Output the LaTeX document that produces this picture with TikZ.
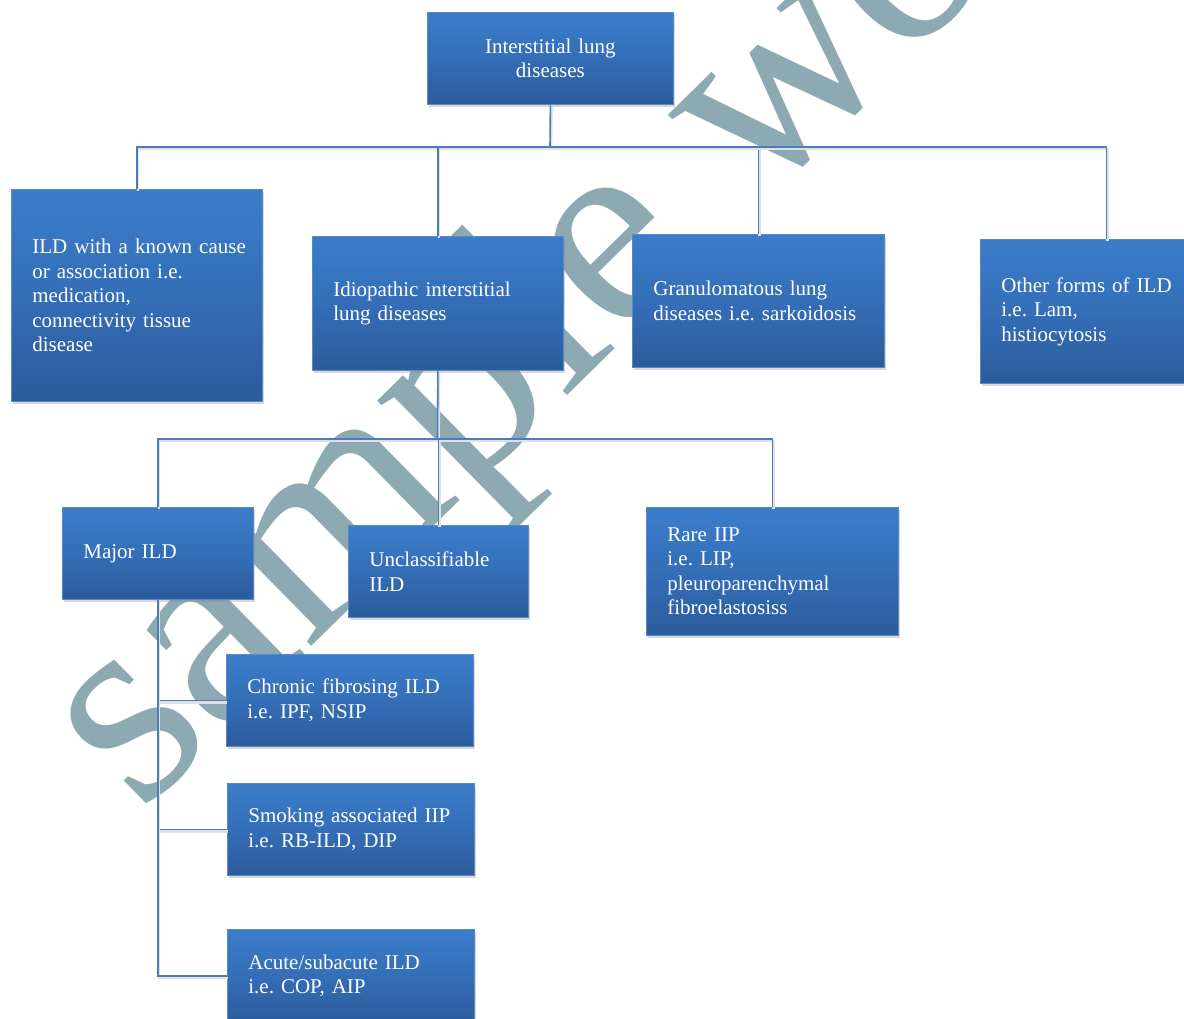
\documentclass[tikz,border=0pt]{standalone}
\usepackage{fontspec}
\setmainfont{Liberation Serif}
\usetikzlibrary{shadows,calc}
\definecolor{bT}{RGB}{59,125,202}
\definecolor{bM}{RGB}{52,110,183}
\definecolor{bB}{RGB}{44,91,155}
\definecolor{bEdge}{RGB}{88,138,200}
\definecolor{lineC}{RGB}{74,125,191}
\definecolor{wmC}{RGB}{141,170,178}
\tikzset{
  box/.style={draw=bEdge, line width=0.8pt, top color=bT, bottom color=bB, middle color=bM,
    drop shadow={shadow xshift=2pt, shadow yshift=-3pt, opacity=0.3},
    text=white, inner ysep=0pt, inner xsep=21pt, anchor=north west, align=left,
    font=\fontsize{21}{24.5}\selectfont\frenchspacing},
  conn/.style={draw=lineC, line width=1.6pt,
    preaction={draw=black!12, line width=2.4pt, transform canvas={xshift=1.2pt,yshift=-2pt}}},
  wm/.style={text=wmC, font=\fontsize{281}{281}\selectfont, inner sep=0pt}
}
\newcommand\lbx[1]{\mbox{#1}}
\begin{document}
\begin{tikzpicture}[x=1pt,y=-1pt]
\useasboundingbox (0,0) rectangle (1184,1018);
\fill[white] (0,0) rectangle (1184,1018);
% watermark
\node[wm, rotate=44.5, anchor=base west] (wmark) at (140,815) {sample work};
% boxes
\node[box, align=center, minimum width=246pt, minimum height=92pt, text width=204pt] (top) at (427,12)
  {\lbx{Interstitial lung}\\\lbx{diseases}};
\node[box, minimum width=251pt, minimum height=212pt, text width=209pt] (known) at (11,189)
  {\lbx{ILD with a known cause}\\\lbx{or association i.e.}\\\lbx{medication,}\\\lbx{connectivity tissue}\\\lbx{disease}};
\node[box, minimum width=251pt, minimum height=134pt, text width=209pt] (idio) at (312,236)
  {\lbx{Idiopathic interstitial}\\\lbx{lung diseases}};
\node[box, minimum width=252pt, minimum height=133pt, text width=210pt] (granu) at (632,234)
  {\lbx{Granulomatous lung}\\\lbx{diseases i.e. sarkoidosis}};
\node[box, minimum width=252pt, minimum height=144pt, text width=210pt] (other) at (980,239)
  {\lbx{Other forms of ILD}\\\lbx{i.e. Lam,}\\\lbx{histiocytosis}};
\node[box, minimum width=191pt, minimum height=92pt, text width=149pt] (major) at (62,507)
  {\lbx{Major ILD}};
\node[box, minimum width=180pt, minimum height=92pt, text width=138pt] (uncl) at (348,525)
  {\lbx{Unclassifiable}\\\lbx{ILD}};
\node[box, minimum width=252pt, minimum height=128pt, text width=210pt] (rare) at (646,507)
  {\lbx{Rare IIP}\\\lbx{i.e. LIP,}\\\lbx{pleuroparenchymal}\\\lbx{fibroelastosiss}};
\node[box, minimum width=247pt, minimum height=92pt, text width=205pt] (chron) at (226,654)
  {\lbx{Chronic fibrosing ILD}\\\lbx{i.e. IPF, NSIP}};
\node[box, minimum width=247pt, minimum height=92pt, text width=205pt] (smok) at (227,783)
  {\lbx{Smoking associated IIP}\\\lbx{i.e. RB-ILD, DIP}};
\node[box, minimum width=247pt, minimum height=93pt, text width=205pt] (acute) at (227,929)
  {\lbx{Acute/subacute ILD}\\\lbx{i.e. COP, AIP}};
% connectors
\coordinate (bus1) at (550,147);
\coordinate (bus2) at (437.5,439);
\draw[conn] (top.south) -- (bus1);
\draw[conn] (bus1) -| (known.north);
\draw[conn] (bus1) -| (idio.north);
\draw[conn] (bus1) -| (granu.north);
\draw[conn] (bus1) -| (other.north);
\draw[conn] (idio.south) -- (bus2);
\draw[conn] (bus2) -| (major.north);
\draw[conn] (bus2) -| (uncl.north);
\draw[conn] (bus2) -| (rare.north);
\draw[conn] (major.south) |- (chron.west);
\draw[conn] (major.south) |- (smok.west);
\draw[conn] (major.south) |- (acute.west);
\end{tikzpicture}
\end{document}
